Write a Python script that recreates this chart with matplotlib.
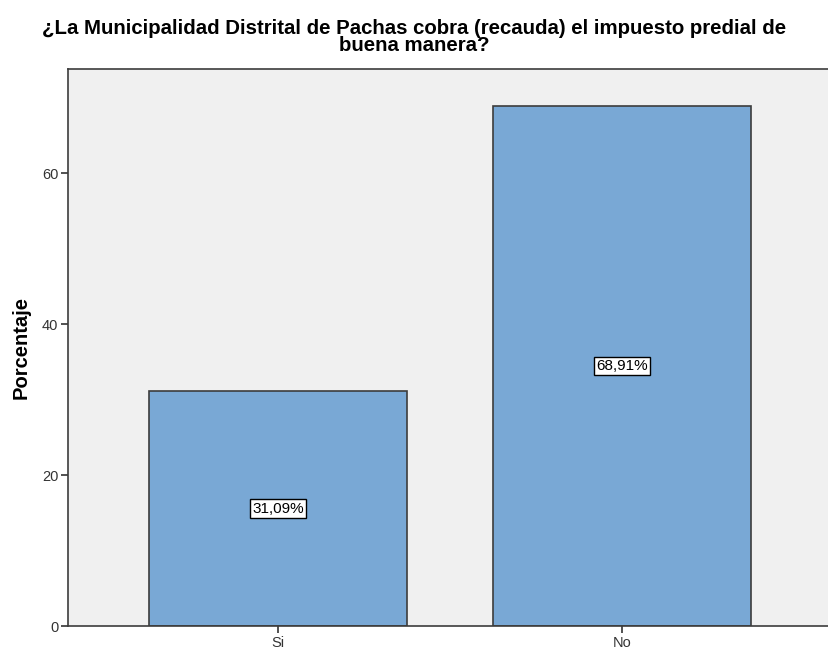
import matplotlib.pyplot as plt

plt.rcParams['font.family'] = ['Liberation Sans', 'DejaVu Sans']

# datos
categorias = ['Si', 'No']
porcentajes = [31.09, 68.91]
etiquetas = ['31,09%', '68,91%']
titulo = '¿La Municipalidad Distrital de Pachas cobra (recauda) el impuesto predial de\nbuena manera?'

fig = plt.figure(figsize=(8.29, 6.52), dpi=100)
ax = fig.add_axes([68 / 829, 26 / 652, (832 - 68) / 829, (626 - 69) / 652])
ax.set_facecolor('#f0f0f0')

x = list(range(len(categorias)))
ax.bar(x, porcentajes, width=0.75, color='#79a8d5', edgecolor='#3c3c3c', linewidth=1.2, zorder=2)

for xi, v, lab in zip(x, porcentajes, etiquetas):
    ax.text(xi, v / 2, lab, ha='center', va='center', fontsize=11, color='black',
            bbox=dict(boxstyle='square,pad=0.15', facecolor='white', edgecolor='black', linewidth=1),
            zorder=3)

ax.set_xlim(-0.61, 1.61)
ax.set_ylim(0, 73.8)
ax.set_xticks(x)
ax.set_xticklabels(categorias)
ax.set_yticks([0, 20, 40, 60])
ax.tick_params(axis='both', colors='#333333', labelsize=10.5, length=5, width=1.2)
ax.tick_params(axis='x', pad=2.5)
ax.tick_params(axis='y', pad=2)

for s in ['left', 'bottom', 'top']:
    ax.spines[s].set_color('#3c3c3c')
    ax.spines[s].set_linewidth(1.2)
ax.spines['right'].set_visible(False)

ax.set_ylabel('Porcentaje', fontsize=14.5, fontweight='bold', labelpad=8)
fig.text(0.5, 1 - 19 / 652, titulo, ha='center', va='top', fontsize=14.7,
         fontweight='bold', linespacing=0.86)

fig.savefig('out.png', dpi=100)
